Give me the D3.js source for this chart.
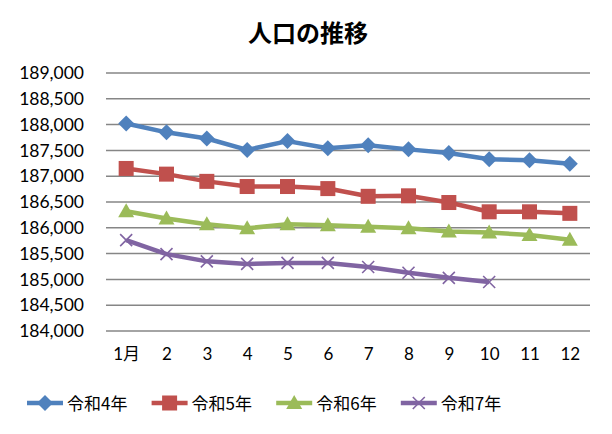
<!DOCTYPE html>
<html>
<head>
<meta charset="utf-8">
<script src="https://d3js.org/d3.v7.min.js"></script>
<style>
  body { margin: 0; background: #fff; }
  text { font-family: "Lato", "Noto Sans CJK JP", sans-serif; }
</style>
</head>
<body>
<div id="chart"></div>
<script>
// data
var months = ["1月", "2", "3", "4", "5", "6", "7", "8", "9", "10", "11", "12"];
var yTicks = [184000, 184500, 185000, 185500, 186000, 186500, 187000, 187500, 188000, 188500, 189000];
var seriesNames = ["令和4年", "令和5年", "令和6年", "令和7年"];
var r4 = [188020, 187850, 187730, 187510, 187680, 187540, 187600, 187520, 187450, 187330, 187310, 187240];
var r5 = [187150, 187040, 186900, 186800, 186800, 186760, 186610, 186620, 186490, 186310, 186310, 186280];
var r6 = [186320, 186180, 186070, 185990, 186070, 186050, 186020, 185990, 185930, 185910, 185860, 185770];
var r7 = [185760, 185490, 185350, 185300, 185320, 185320, 185240, 185130, 185030, 184950];

var colors = ["#4F81BD", "#C0504D", "#9BBB59", "#8064A2"];
var allSeries = [r4, r5, r6, r7];

var W = 612, H = 434;
var margin = {top: 73, right: 22, bottom: 103, left: 106};
var width = W - margin.left - margin.right,
    height = H - margin.top - margin.bottom;

var svg = d3.select("#chart").append("svg")
    .attr("width", W)
    .attr("height", H);

svg.append("text")
    .attr("x", 308)
    .attr("y", 42)
    .attr("text-anchor", "middle")
    .style("font-family", "'Noto Sans CJK JP', sans-serif")
    .style("font-weight", "bold")
    .style("font-size", "24px")
    .text("人口の推移");

var g = svg.append("g")
    .attr("transform", "translate(" + margin.left + "," + margin.top + ")");

var x = d3.scalePoint()
    .domain(months)
    .range([0, width])
    .padding(0.5);

var y = d3.scaleLinear()
    .domain([184000, 189000])
    .range([height, 0]);

// grid lines
g.append("g")
  .selectAll("line")
  .data(yTicks)
  .enter().append("line")
    .attr("x1", 0)
    .attr("x2", width)
    .attr("y1", function(d) { return y(d); })
    .attr("y2", function(d) { return y(d); })
    .attr("stroke", "#868686")
    .attr("stroke-width", 1.5);

// y labels
var yAxis = g.append("g")
    .call(d3.axisLeft(y).tickValues(yTicks).tickFormat(d3.format(",")).tickSize(0).tickPadding(22));
yAxis.select(".domain").remove();
yAxis.selectAll("text")
    .style("font-family", "'Lato', sans-serif")
    .style("font-size", "17.5px")
    .attr("fill", "#000");

// x labels
var xAxis = g.append("g")
    .attr("transform", "translate(0," + height + ")")
    .call(d3.axisBottom(x).tickSize(0).tickPadding(17));
xAxis.select(".domain").remove();
xAxis.selectAll("text")
    .style("font-family", "'Lato', 'Noto Sans CJK JP', sans-serif")
    .style("font-size", "17px")
    .attr("fill", "#000");

var line = d3.line()
    .x(function(d, i) { return x(months[i]); })
    .y(function(d) { return y(d); });

function drawMarker(sel, k) {
  if (k === 3) {
    sel.append("path")
      .attr("d", "M-6,-6L6,6M-6,6L6,-6")
      .attr("stroke", colors[k])
      .attr("stroke-width", 1.6)
      .attr("fill", "none");
  } else if (k === 0) {
    sel.append("path")
      .attr("d", "M0,-8L8,0L0,8L-8,0Z")
      .attr("fill", colors[k]);
  } else if (k === 1) {
    sel.append("rect")
      .attr("x", -7.5).attr("y", -7.5)
      .attr("width", 15).attr("height", 15)
      .attr("fill", colors[k]);
  } else {
    sel.append("path")
      .attr("d", "M0,-8L8,6L-8,6Z")
      .attr("fill", colors[k]);
  }
}

allSeries.forEach(function(vals, k) {
  g.append("path")
    .datum(vals)
    .attr("fill", "none")
    .attr("stroke", colors[k])
    .attr("stroke-width", 4.5)
    .attr("stroke-linejoin", "round")
    .attr("d", line);

  g.append("g").selectAll("g")
    .data(vals)
    .enter().append("g")
      .attr("transform", function(d, i) {
        return "translate(" + x(months[i]) + "," + y(d) + ")";
      })
      .each(function() { drawMarker(d3.select(this), k); });
});

// legend
var legend = svg.append("g").attr("transform", "translate(27,403)");
seriesNames.forEach(function(name, k) {
  var item = legend.append("g").attr("transform", "translate(" + (k * 124.6) + ",0)");
  item.append("line")
    .attr("x1", 0).attr("x2", 36)
    .attr("stroke", colors[k])
    .attr("stroke-width", 4.5);
  var m = item.append("g").attr("transform", "translate(18,0)");
  drawMarker(m, k);
  item.append("text")
    .attr("x", 40)
    .attr("y", 6.5)
    .style("font-family", "'Noto Sans CJK JP', sans-serif")
    .style("font-size", "17px")
    .text(name);
});
</script>
</body>
</html>
